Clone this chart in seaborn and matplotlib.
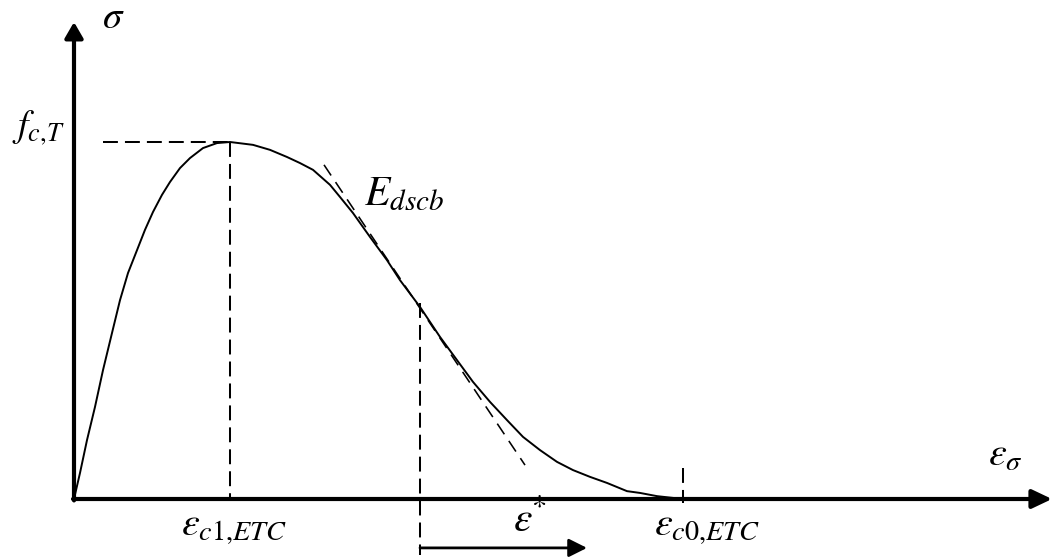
import numpy as np
import pandas as pd
import matplotlib
matplotlib.use("Agg")
import matplotlib.pyplot as plt
import seaborn as sns

# -----------------------
# Data (schematic stress-strain curve, strain in arbitrary units, stress normalised to f_c,T)
# -----------------------
strain = [0.00, 0.06, 0.13, 0.21, 0.29, 0.38, 0.46, 0.54, 0.63, 0.71, 0.79, 0.88,
          0.96, 1.06, 1.16, 1.29, 1.43, 1.56, 1.79, 1.96, 2.13, 2.26, 2.39, 2.56,
          2.66, 2.79, 2.96, 3.13, 3.26, 3.46, 3.66, 3.83, 3.99, 4.16, 4.33, 4.49,
          4.66, 4.83, 4.99, 5.16, 5.33, 5.53, 5.66, 5.83, 6.09]
stress = [0.000, 0.073, 0.165, 0.258, 0.361, 0.465, 0.557, 0.633, 0.697, 0.754, 0.804, 0.852,
          0.888, 0.927, 0.955, 0.983, 0.997, 1.000, 0.992, 0.978, 0.958, 0.941, 0.922, 0.880,
          0.846, 0.801, 0.734, 0.669, 0.613, 0.538, 0.454, 0.389, 0.328, 0.272, 0.221, 0.174,
          0.137, 0.104, 0.081, 0.062, 0.045, 0.022, 0.017, 0.008, 0.000]

eps_c1 = 1.56      # strain at peak
f_cT = 1.0         # peak stress
eps_ref = 3.46     # start of eps* arrow
eps_c0 = 6.09      # strain at zero stress
eps_star_end = 5.13

tangent_x = [2.50, 4.51]
tangent_y = [0.936, 0.095]

x_axis_end = 9.78
y_axis_end = 1.336

df = pd.DataFrame({"strain": strain, "stress": stress})

# -----------------------
# Figure
# -----------------------
sns.set_style("white")
plt.rcParams["mathtext.fontset"] = "stix"
plt.rcParams["font.family"] = ["STIXGeneral", "DejaVu Serif"]

fig = plt.figure(figsize=(10.53, 5.59), dpi=100)
ax = fig.add_axes([0, 0, 1, 1])
ax.set_xlim(-0.74, 10.53 - 0.74)
ax.set_ylim(-60 / 357, 499 / 357)
ax.axis("off")


def px(x, y):
    # pixel position -> data position (only for label placement)
    return (x - 74) / 100, (499 - y) / 357


sns.lineplot(data=df, x="strain", y="stress", color="black", lw=1.4,
             sort=False, estimator=None, ax=ax)

dash = (0, (7.4, 3.5))
ax.plot([0.29, eps_c1], [f_cT, f_cT], color="black", lw=1.45, ls=dash)
ax.plot([eps_c1, eps_c1], [f_cT, 0], color="black", lw=1.45, ls=dash)
ax.plot([eps_ref, eps_ref], [0.549, -0.157], color="black", lw=1.45, ls=dash)
ax.plot([eps_c0, eps_c0], [0.087, -0.011], color="black", lw=1.45, ls=dash)
ax.plot(tangent_x, tangent_y, color="black", lw=1.15, ls=(0, (8, 5)))

# axes arrows
ax.annotate("", xy=(0, y_axis_end), xytext=(0, -0.004),
            arrowprops=dict(arrowstyle="-|>,head_length=0.95,head_width=0.55",
                            color="black", lw=3, shrinkA=0, shrinkB=0))
ax.annotate("", xy=(x_axis_end, 0), xytext=(-0.01, 0),
            arrowprops=dict(arrowstyle="-|>,head_length=1.2,head_width=0.57",
                            color="black", lw=3, shrinkA=0, shrinkB=0))

# eps* arrow
ax.annotate("", xy=(eps_star_end, -0.137), xytext=(eps_ref, -0.137),
            arrowprops=dict(arrowstyle="-|>,head_length=1.1,head_width=0.55",
                            color="black", lw=2, shrinkA=0, shrinkB=0))

labels = [
    (r"$\sigma$", 113, 19, 28, "center"),
    (r"$f_{c{,}T}$", 38, 128, 27, "center"),
    (r"$E_{dscb}$", 404, 195, 30, "center"),
    (r"$\varepsilon_{\sigma}$", 1005, 456, 29, "center"),
    (r"$\varepsilon_{c1{,}ETC}$", 234, 528, 29, "center"),
    (r"$\varepsilon$", 523, 521, 30, "center"),
    ("*", 540, 494, 22, "top"),
    (r"$\varepsilon_{c0{,}ETC}$", 707, 528, 29, "center"),
]
for txt, lx, ly, fs, va in labels:
    x, y = px(lx, ly)
    ax.text(x, y, txt, fontsize=fs, ha="center", va=va, color="black")

fig.savefig("out.png", dpi=100)
